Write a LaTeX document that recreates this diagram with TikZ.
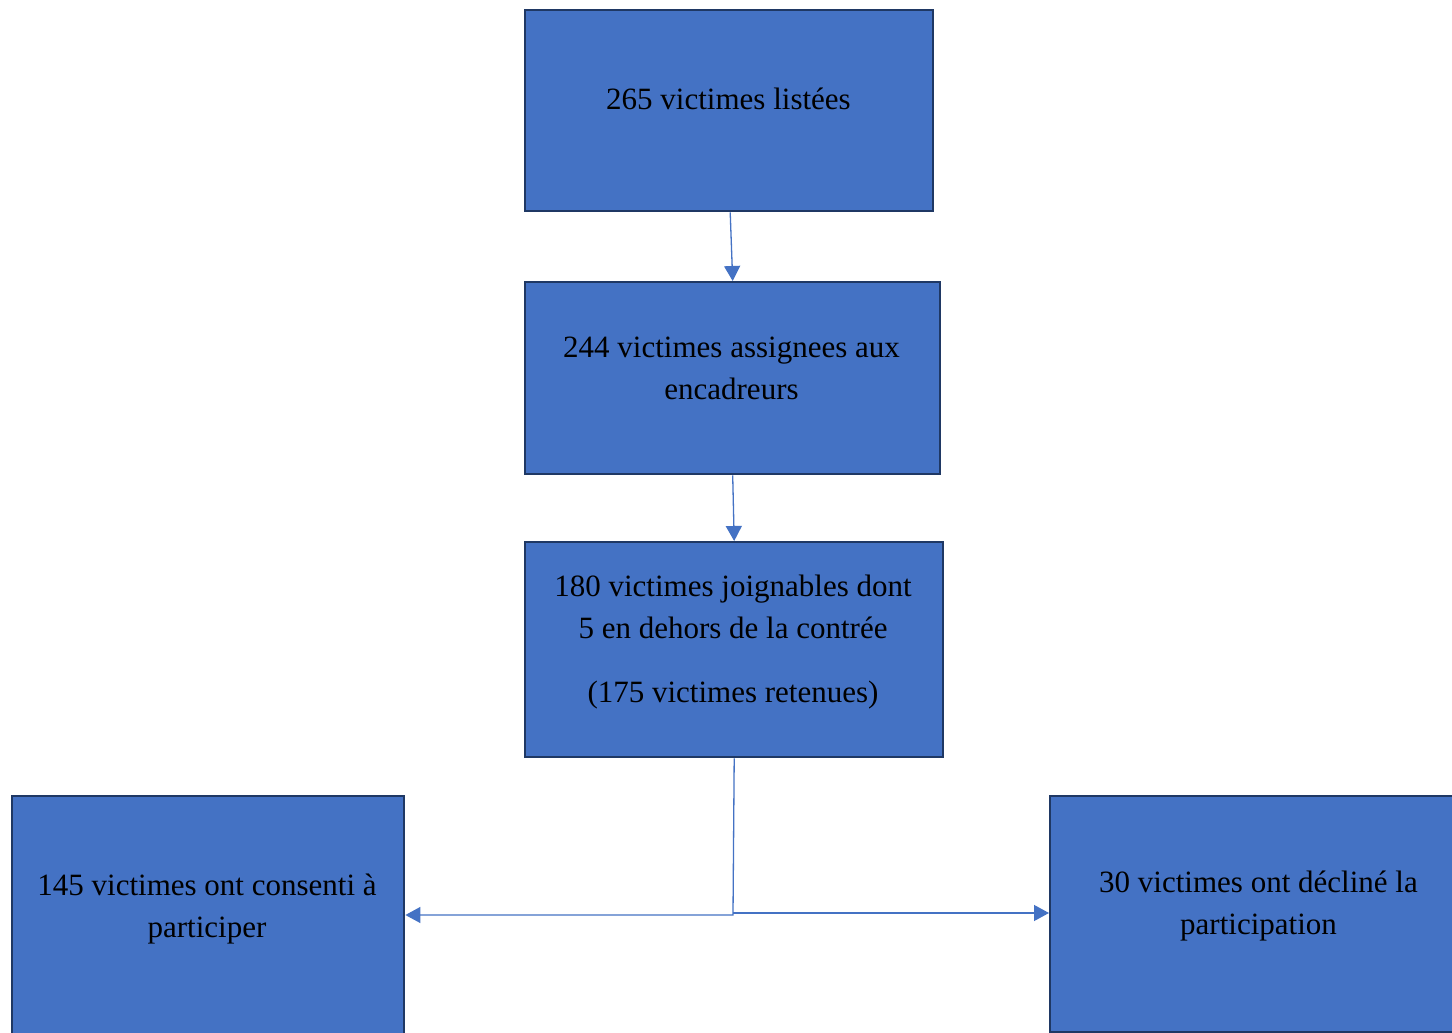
\documentclass[tikz,border=0pt]{standalone}
\usepackage{fontspec}
\setmainfont{Liberation Serif}
\usetikzlibrary{arrows.meta}
\definecolor{boxfill}{HTML}{4472C4}
\definecolor{boxline}{HTML}{1F3864}
\definecolor{arrcol}{HTML}{4472C4}
\tikzset{
  box/.style={draw=boxline, fill=boxfill, line width=2.4pt},
  txt/.style={anchor=base, inner sep=0pt, font=\fontsize{31}{42}\selectfont, text=black},
  arr/.style={draw=arrcol, line width=1.3pt, -{Triangle[length=15pt,width=16pt]}}
}
\begin{document}
\begin{tikzpicture}[x=1pt,y=1pt]
\useasboundingbox (0,0) rectangle (1452,-1033);
\fill[white] (0,0) rectangle (1452,-1033);
% boxes
\node[box, minimum width=408pt, minimum height=201pt, inner sep=0pt, anchor=north west] (b1) at (524,-9) {};
\node[box, minimum width=415pt, minimum height=192pt, inner sep=0pt, anchor=north west] (b2) at (524,-281) {};
\node[box, minimum width=418pt, minimum height=215pt, inner sep=0pt, anchor=north west] (b3) at (524,-541) {};
\node[box, minimum width=392pt, minimum height=270pt, inner sep=0pt, anchor=north west] (b4) at (11,-795) {};
\node[box, minimum width=430pt, minimum height=236pt, inner sep=0pt, anchor=north west] (b5) at (1049,-795) {};
% texts
\node[txt] (t1) at (728.5,-110) {265 victimes listées};
\node[txt] (t2a) at (731.5,-357) {244 victimes assignees aux};
\node[txt] (t2b) at (731.5,-399) {encadreurs};
\node[txt] (t3a) at (733,-596) {180 victimes joignables dont};
\node[txt] (t3b) at (733,-638) {5 en dehors de la contrée};
\node[txt] (t3c) at (733,-702) {(175 victimes retenues)};
\node[txt] (t4a) at (207,-895) {145 victimes ont consenti à};
\node[txt] (t4b) at (207,-937) {participer};
\node[txt] (t5a) at (1258.5,-892) {30 victimes ont décliné la};
\node[txt] (t5b) at (1258.5,-934) {participation};
% connectors
\coordinate (j) at (733,-915);
\coordinate (j2) at (733,-913);
\draw[arr] ([xshift=1pt]b1.south) -- (b2.north);
\draw[arr] (b2.south) -- (b3.north);
\draw[arr] (b3.south) -- (j) -- (j -| b4.east);
\draw[arr] (j2) -- (j2 -| b5.west);
\end{tikzpicture}
\end{document}
